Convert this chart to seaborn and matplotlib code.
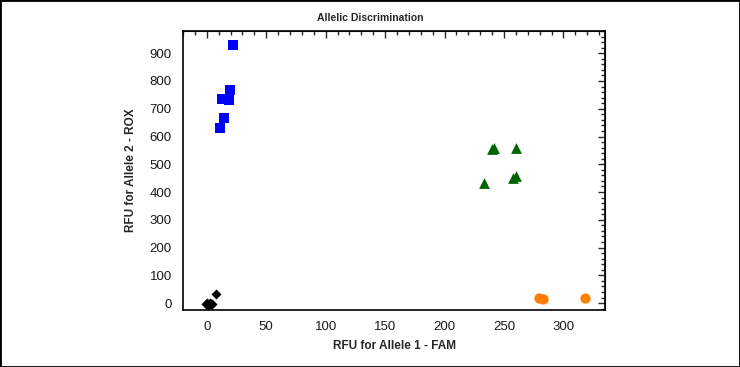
import numpy as np
import pandas as pd
import matplotlib
matplotlib.use("Agg")
import matplotlib.pyplot as plt
from matplotlib.ticker import MultipleLocator
from matplotlib.patches import Rectangle
import seaborn as sns

sns.set_style("white")
plt.rcParams['font.family'] = ['Liberation Sans', 'DejaVu Sans']

# RFU readings per call group
allele2_fam = [21.8, 19.9, 12.6, 18.7, 14.9, 11.2]
allele2_rox = [929, 768, 735, 732, 667, 631]

hetero_fam = [239.6, 241.3, 259.7, 258.0, 260.0, 232.8]
hetero_rox = [554, 560, 560, 449, 457, 431]

allele1_fam = [279.2, 282.6, 318.5]
allele1_rox = [17, 14, 19]

ntc_fam = [7.6, -1.0, 0.5, 2.0, 3.5, 1.0, 2.5, 0.0, 4.0]
ntc_rox = [31, -3, -1, -4, -2, -6, 0, -5, -4]

groups = (["Allele 2"] * len(allele2_fam) + ["Both"] * len(hetero_fam)
          + ["Allele 1"] * len(allele1_fam) + ["NTC"] * len(ntc_fam))
df = pd.DataFrame({
    "fam": allele2_fam + hetero_fam + allele1_fam + ntc_fam,
    "rox": allele2_rox + hetero_rox + allele1_rox + ntc_rox,
    "call": groups,
})

palette = {"Allele 2": "#0000ff", "Both": "#006400", "Allele 1": "#ff8000", "NTC": "black"}
markers = {"Allele 2": "s", "Both": "^", "Allele 1": "o", "NTC": "D"}
msize = {"Allele 2": 60, "Both": 60, "Allele 1": 55, "NTC": 26}

fig = plt.figure(figsize=(7.4, 3.67), dpi=100)
ax = fig.add_axes([0.2473, 0.1553, 0.5703, 0.7602])

for call, sub in df.groupby("call", sort=False):
    sns.scatterplot(data=sub, x="fam", y="rox", color=palette[call],
                    marker=markers[call], s=msize[call], linewidth=0,
                    legend=False, ax=ax)

ax.set_xlim(-20, 335)
ax.set_ylim(-25, 980)
ax.xaxis.set_major_locator(MultipleLocator(50))
ax.xaxis.set_minor_locator(MultipleLocator(10))
ax.yaxis.set_major_locator(MultipleLocator(100))
ax.yaxis.set_minor_locator(MultipleLocator(10))
ax.tick_params(which="major", direction="inout", length=10, width=1,
               labelsize=9.5, labelcolor="#1a1a1a", color="black", pad=3)
ax.tick_params(which="minor", direction="inout", length=4, width=1, color="black")

for s in ax.spines.values():
    s.set_color("black")
    s.set_linewidth(1.2)

secx = ax.secondary_xaxis("top")
secx.xaxis.set_major_locator(MultipleLocator(50))
secx.xaxis.set_minor_locator(MultipleLocator(10))
secx.tick_params(which="major", direction="in", length=5, width=1, labeltop=False)
secx.tick_params(which="minor", direction="in", length=3, width=1)

secy = ax.secondary_yaxis("right")
secy.yaxis.set_major_locator(MultipleLocator(100))
secy.yaxis.set_minor_locator(MultipleLocator(20))
secy.tick_params(which="major", direction="in", length=5, width=1, labelright=False)
secy.tick_params(which="minor", direction="in", length=3, width=1)

ax.set_xlabel("RFU for Allele 1 - FAM", fontsize=8.5, fontweight="bold", labelpad=5)
ax.set_ylabel("RFU for Allele 2 - ROX", fontsize=8.5, fontweight="bold", labelpad=9)
fig.text(0.5, 0.95, "Allelic Discrimination", ha="center", va="center",
         fontsize=7.5, fontweight="bold")

fig.add_artist(Rectangle((0, 0), 1, 1, transform=fig.transFigure, fill=False,
                         edgecolor="black", linewidth=2))

fig.savefig("out.png", dpi=100)
